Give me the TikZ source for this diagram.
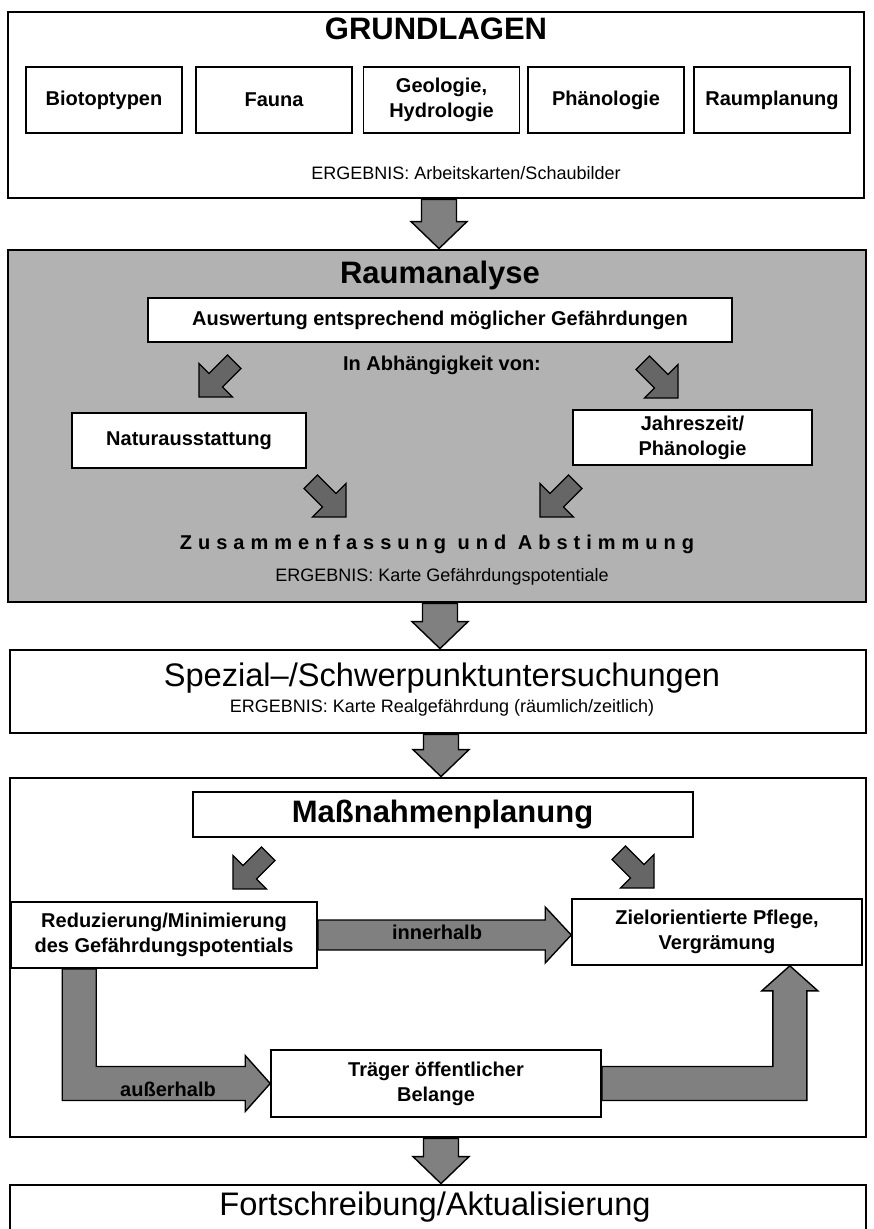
\documentclass[tikz,border=0pt]{standalone}
\usepackage{fontspec}
\setmainfont{Liberation Sans}
\usetikzlibrary{calc,shapes.arrows}

\newcommand{\titlesize}{\fontsize{15.5}{18}\selectfont}
\newcommand{\headsize}{\fontsize{16.3}{19}\selectfont}
\newcommand{\boxsize}{\fontsize{10}{12.5}\selectfont}
\newcommand{\ressize}{\fontsize{9}{11}\selectfont}

\tikzset{
  frame/.style={draw, line width=1.4pt, inner sep=0pt},
  stipple/.style={fill=black!30},
  inbox/.style={draw, fill=white, line width=0.8pt, align=center, font=\boxsize\bfseries, inner sep=2pt},
  subbox/.style={inbox, minimum width=78pt, minimum height=33pt},
  fatarrow/.style={draw=black, line width=0.7pt, fill=black!50, line join=miter},
  diagarrow/.style={single arrow, draw=black, fill=black!60, line width=0.6pt,
    minimum height=25pt, minimum width=23pt, inner sep=4.5pt},
}

% block arrow from one frame down to the next
\newcommand{\downblock}[2]{%
  \draw[fatarrow] let \p1=([xshift=1.5pt]#1.south), \p2=(#2.north) in
    (\x1-8.75pt,\y1) -- (\x1+8.75pt,\y1) -- (\x1+8.75pt,\y2+13.5pt) -- (\x1+14pt,\y2+13.5pt)
    -- (\x1,\y2) -- (\x1-14pt,\y2+13.5pt) -- (\x1-8.75pt,\y2+13.5pt) -- cycle;}

\begin{document}
\begin{tikzpicture}[x=0.5pt,y=-0.5pt]
\useasboundingbox (0,0) rectangle (873,1229);
\clip (0,0) rectangle (873,1229);

% Grundlagen
\node[frame, minimum width=428pt, minimum height=93pt] (grund) at (436,105) {};
\node[font=\titlesize\bfseries] (grundtitle) at (436,29) {GRUNDLAGEN};
\node[subbox] (biotop) at (104,100) {Biotoptypen};
\node[subbox] (fauna) at (274,100) {Fauna};
\node[subbox] (geo) at (441.5,100) {Geologie,\\Hydrologie};
\node[subbox] (phaeno) at (606,100) {Phänologie};
\node[subbox] (raumpl) at (772,100) {Raumplanung};
\node[font=\ressize] (grunderg) at (466,173) {ERGEBNIS: Arbeitskarten/Schaubilder};

% Raumanalyse
\node[frame, stipple, minimum width=429pt, minimum height=176pt] (raum) at (437,426) {};
\node[font=\titlesize\bfseries] (raumtitle) at (440,275) {Raumanalyse};
\node[inbox, minimum width=292pt, minimum height=22pt] (ausw) at (440,320) {Auswertung entsprechend möglicher Gefährdungen};
\node[font=\boxsize\bfseries] (abh) at (442,365) {In Abhängigkeit von:};
\node[inbox, minimum width=117pt, minimum height=27.5pt] (natur) at (189,440.5) {Naturausstattung};
\node[inbox, minimum width=119.5pt, minimum height=27.5pt] (jahr) at (692.5,437.5) {Jahreszeit/\\Phänologie};
\node[diagarrow, rotate=-135] (ra1) at (220,376) {};
\node[diagarrow, rotate=-45] (ra2) at (657,377) {};
\node[diagarrow, rotate=-45] (ra3) at (325,496) {};
\node[diagarrow, rotate=-135] (ra4) at (561,496) {};
\node[font=\boxsize\bfseries\addfontfeature{LetterSpace=30}] (zus) at (437,544) {Zusammenfassung und Abstimmung};
\node[font=\ressize] (raumerg) at (442,577) {ERGEBNIS: Karte Gefährdungspotentiale};

% Spezial-/Schwerpunktuntersuchungen
\node[frame, minimum width=428pt, minimum height=41.5pt] (spez) at (438,691.5) {};
\node[font=\headsize] (speztitle) at (442,678) {Spezial–/Schwerpunktuntersuchungen};
\node[font=\ressize] (spezerg) at (442,708) {ERGEBNIS: Karte Realgefährdung (räumlich/zeitlich)};

% Massnahmenplanung
\node[frame, minimum width=428pt, minimum height=179.5pt] (mass) at (438,957.5) {};
\node[inbox, font=\titlesize\bfseries, line width=1pt, minimum width=250pt, minimum height=22.5pt] (masstitle) at (442.5,814.5) {Maßnahmenplanung};
\node[diagarrow, rotate=-135] (ma1) at (254,868) {};
\node[diagarrow, rotate=-45] (ma2) at (633,867) {};
\node[inbox, minimum width=153pt, minimum height=33pt] (reduz) at (164,935) {Reduzierung/Minimierung\\des Gefährdungspotentials};
\node[inbox, minimum width=145pt, minimum height=33pt] (ziel) at (717,932) {Zielorientierte Pflege,\\Vergrämung};
\node[inbox, minimum width=165pt, minimum height=33.5pt] (traeger) at (436,1083.5) {Träger öffentlicher\\Belange};

% innerhalb
\draw[fatarrow] let \p1=(reduz.east), \p2=(ziel.west) in
  (\x1,\y1+7.5pt) -- (\x2-13pt,\y1+7.5pt) -- (\x2-13pt,\y1+14pt) -- (\x2,\y1)
  -- (\x2-13pt,\y1-14pt) -- (\x2-13pt,\y1-7.5pt) -- (\x1,\y1-7.5pt) -- cycle;
\node[font=\boxsize\bfseries] (inner) at (437,932) {innerhalb};

% ausserhalb
\draw[fatarrow] let \p1=([xshift=34.5pt]reduz.south west), \p2=(traeger.west) in
  (\x1-8.5pt,\y1) -- (\x1+8.5pt,\y1) -- (\x1+8.5pt,\y2+8.5pt) -- (\x2-12.5pt,\y2+8.5pt)
  -- (\x2-12.5pt,\y2+14pt) -- (\x2,\y2) -- (\x2-12.5pt,\y2-14pt) -- (\x2-12.5pt,\y2-8.5pt)
  -- (\x1-8.5pt,\y2-8.5pt) -- cycle;
\node[font=\boxsize\bfseries] (outer) at (168,1089) {außerhalb};

% Traeger -> Pflege
\draw[fatarrow] let \p1=(traeger.east), \p2=([xshift=-36.5pt]ziel.south east) in
  (\x1,\y1+8.5pt) -- (\x2-8.5pt,\y1+8.5pt) -- (\x2-8.5pt,\y2-12.5pt) -- (\x2-14pt,\y2-12.5pt)
  -- (\x2,\y2) -- (\x2+14pt,\y2-12.5pt) -- (\x2+8.5pt,\y2-12.5pt) -- (\x2+8.5pt,\y1-8.5pt)
  -- (\x1,\y1-8.5pt) -- cycle;

% Fortschreibung
\node[frame, minimum width=428pt, minimum height=37.5pt] (fort) at (438,1222.5) {};
\node[font=\headsize] (forttitle) at (435,1207) {Fortschreibung/Aktualisierung};

% arrows between the stages
\downblock{grund}{raum}
\downblock{raum}{spez}
\downblock{spez}{mass}
\downblock{mass}{fort}

\end{tikzpicture}
\end{document}
